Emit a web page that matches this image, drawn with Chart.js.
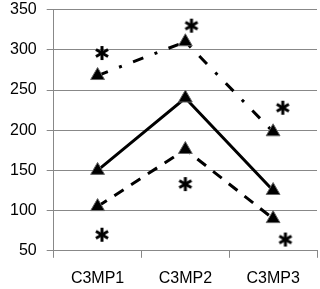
<!DOCTYPE html>
<html>
<head>
<meta charset="utf-8">
<script src="https://cdn.jsdelivr.net/npm/chart.js@4/dist/chart.umd.min.js"></script>
<style>
  html, body { margin: 0; padding: 0; background: #fff; overflow: hidden; }
  #wrap { width: 326px; height: 299px; margin-top: -10px; }
</style>
</head>
<body>
<div id="wrap"><canvas id="c"></canvas></div>
<script>
var categories = ['C3MP1', 'C3MP2', 'C3MP3'];
var solidVals = [150, 240, 125];
var dashVals = [105, 176, 90];
var dashDotVals = [268, 310, 198];
// asterisk positions (x as category position 1..3, slightly right of centre)
var starX = [1.05, 2.07, 3.11, 1.05, 2.0, 3.14];
var starY = [296, 330, 228, 70, 133, 64];
var yTicks = [50, 350, 50]; // min, max, step

var starPts = starX.map(function (x, i) { return { x: x, y: starY[i] }; });

// six-armed asterisk like the text glyph
function makeStar() {
    var cv = document.createElement('canvas');
    cv.width = 16; cv.height = 16;
    var g = cv.getContext('2d');
    g.strokeStyle = '#000';
    g.lineWidth = 3;
    [90, 30, 150].forEach(function (a) {
        var r = a * Math.PI / 180, dx = Math.cos(r) * 7, dy = Math.sin(r) * 7;
        g.beginPath();
        g.moveTo(8 - dx, 8 - dy);
        g.lineTo(8 + dx, 8 + dy);
        g.stroke();
    });
    return cv;
}

function lineSet(vals, dash) {
    return {
        data: vals,
        xAxisID: 'x',
        borderColor: '#000',
        borderWidth: 3,
        borderDash: dash,
        pointStyle: 'triangle',
        pointRadius: 8,
        pointBackgroundColor: '#000',
        pointBorderColor: '#666',
        pointBorderWidth: 1,
        tension: 0
    };
}

new Chart(document.getElementById('c'), {
    type: 'line',
    data: {
        labels: categories,
        datasets: [
            lineSet(solidVals, []),
            lineSet(dashVals, [11, 9]),
            lineSet(dashDotVals, [11, 12, 3, 12]),
            {
                type: 'scatter',
                data: starPts,
                xAxisID: 'xs',
                showLine: false,
                pointStyle: makeStar(),
                pointRadius: 8
            }
        ]
    },
    options: {
        responsive: true,
        maintainAspectRatio: false,
        animation: false,
        layout: { padding: { top: 0, right: 0, left: 0, bottom: -10 } },
        plugins: { legend: { display: false }, tooltip: { enabled: false } },
        scales: {
            x: {
                offset: true,
                grid: { offset: true, drawOnChartArea: false, color: '#888', tickLength: 7 },
                border: { color: '#888' },
                ticks: { color: '#000', font: { family: 'Liberation Sans', size: 16 }, padding: 11 }
            },
            xs: {
                type: 'linear',
                display: false,
                min: 0.5,
                max: 3.5
            },
            y: {
                min: yTicks[0],
                max: yTicks[1],
                ticks: { stepSize: yTicks[2], color: '#000', font: { family: 'Liberation Sans', size: 16 }, padding: 10 },
                grid: { color: '#888', tickLength: 7, drawTicks: true },
                border: { color: '#888' }
            }
        }
    }
});
</script>
</body>
</html>
